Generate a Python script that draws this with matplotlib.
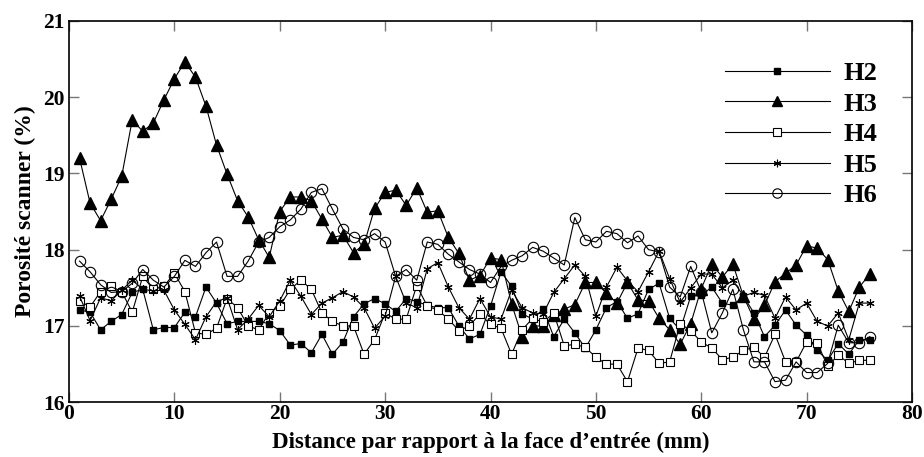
import matplotlib
matplotlib.use("Agg")
import matplotlib.pyplot as plt
import numpy as np

x = list(range(1, 77))

H2 = [17.21, 17.18, 16.95, 17.06, 17.15, 17.44, 17.48, 16.95, 16.98, 16.98,
      17.18, 17.12, 17.51, 17.30, 17.03, 17.06, 17.06, 17.06, 17.03, 16.94,
      16.75, 16.77, 16.65, 16.89, 16.63, 16.79, 17.12, 17.29, 17.36, 17.29,
      17.19, 17.36, 17.32, 17.27, 17.24, 17.24, 17.00, 16.83, 16.89, 17.26,
      17.71, 17.52, 17.16, 17.09, 17.22, 16.86, 17.09, 16.91, 16.71, 16.95,
      17.24, 17.32, 17.10, 17.16, 17.48, 17.56, 17.10, 16.95, 17.39, 17.40,
      17.51, 17.30, 17.27, 17.39, 17.17, 16.86, 17.01, 17.21, 17.01, 16.88,
      16.68, 16.55, 16.77, 16.63, 16.82, 16.82]

H3 = [19.20, 18.61, 18.38, 18.66, 18.96, 19.70, 19.55, 19.66, 19.96, 20.24,
      20.46, 20.26, 19.88, 19.37, 18.99, 18.64, 18.43, 18.13, 17.90, 18.50,
      18.69, 18.69, 18.64, 18.40, 18.16, 18.19, 17.96, 18.07, 18.54, 18.75,
      18.78, 18.58, 18.81, 18.49, 18.51, 18.16, 17.95, 17.60, 17.66, 17.89,
      17.87, 17.29, 16.86, 17.00, 17.00, 17.14, 17.22, 17.28, 17.57, 17.57,
      17.43, 17.30, 17.57, 17.34, 17.33, 17.10, 16.95, 16.76, 17.03, 17.49,
      17.81, 17.64, 17.81, 17.39, 17.09, 17.27, 17.58, 17.69, 17.80, 18.05,
      18.02, 17.87, 17.46, 17.19, 17.51, 17.68]

H4 = [17.33, 17.25, 17.45, 17.52, 17.45, 17.18, 17.65, 17.48, 17.52, 17.69,
      17.45, 16.91, 16.89, 16.97, 17.36, 17.24, 17.00, 16.95, 17.17, 17.26,
      17.48, 17.60, 17.48, 17.17, 17.06, 17.00, 17.00, 16.63, 16.82, 17.17,
      17.09, 17.09, 17.53, 17.26, 17.21, 17.09, 16.94, 17.00, 17.16, 17.02,
      16.97, 16.63, 16.95, 17.10, 17.05, 17.17, 16.74, 16.76, 16.72, 16.59,
      16.50, 16.50, 16.27, 16.71, 16.68, 16.51, 16.53, 17.03, 16.94, 16.79,
      16.71, 16.56, 16.59, 16.68, 16.72, 16.59, 16.89, 16.53, 16.53, 16.79,
      16.78, 16.47, 16.62, 16.51, 16.55, 16.55]

H5 = [17.39, 17.07, 17.37, 17.33, 17.47, 17.60, 17.48, 17.46, 17.47, 17.21,
      17.02, 16.82, 17.12, 17.32, 17.37, 16.95, 17.09, 17.27, 17.12, 17.33,
      17.60, 17.39, 17.15, 17.30, 17.37, 17.45, 17.38, 17.24, 16.97, 17.13,
      17.65, 17.30, 17.24, 17.75, 17.83, 17.51, 17.24, 17.09, 17.36, 17.12,
      17.09, 17.47, 17.24, 17.17, 17.16, 17.44, 17.62, 17.80, 17.65, 17.13,
      17.51, 17.77, 17.59, 17.45, 17.71, 17.98, 17.62, 17.31, 17.50, 17.68,
      17.68, 17.50, 17.60, 17.39, 17.44, 17.40, 17.10, 17.38, 17.21, 17.30,
      17.06, 17.00, 17.17, 16.82, 17.30, 17.30]

H6 = [17.85, 17.71, 17.54, 17.44, 17.45, 17.56, 17.74, 17.60, 17.51, 17.65,
      17.86, 17.78, 17.96, 18.10, 17.65, 17.65, 17.85, 18.10, 18.16, 18.30,
      18.39, 18.53, 18.75, 18.80, 18.53, 18.27, 18.16, 18.13, 18.21, 18.10,
      17.65, 17.74, 17.60, 18.10, 18.07, 17.94, 17.84, 17.74, 17.68, 17.57,
      17.78, 17.86, 17.92, 18.03, 17.98, 17.89, 17.80, 18.42, 18.13, 18.10,
      18.24, 18.21, 18.09, 18.18, 18.00, 17.97, 17.51, 17.38, 17.78, 17.45,
      16.91, 17.17, 17.48, 16.95, 16.53, 16.53, 16.27, 16.29, 16.53, 16.39,
      16.39, 16.51, 17.01, 16.78, 16.78, 16.86]

series = [("H2", H2), ("H3", H3), ("H4", H4), ("H5", H5), ("H6", H6)]

xticks = [0, 10, 20, 30, 40, 50, 60, 70, 80]
yticks = [16, 17, 18, 19, 20, 21]

plt.rcParams['font.family'] = ['Liberation Serif', 'DejaVu Serif']
plt.rcParams['font.weight'] = 'bold'

fig = plt.figure(figsize=(9.24, 4.57), dpi=100)
ax = fig.add_axes([69/924, 1 - 402.3/457, (912 - 69)/924, (402.3 - 20.7)/457])

styles = {
    "H2": dict(marker='s', ms=5, mfc='black', mec='black'),
    "H3": dict(marker='^', ms=8, mfc='black', mec='black'),
    "H4": dict(marker='s', ms=6, mfc='white', mec='black', mew=0.8),
    "H5": dict(marker=(6, 2, 0), ms=6, mfc='black', mec='black', mew=0.8),
    "H6": dict(marker='o', ms=7.5, mfc='none', mec='black', mew=0.8),
}

for name, vals in series:
    ax.plot(x, vals, color='black', lw=0.8, label=name, **styles[name])

ax.set_xlim(0, 80)
ax.set_ylim(16, 21)
ax.set_xticks(xticks)
ax.set_yticks(yticks)
ax.tick_params(direction='in', length=7, width=1, color='#777777',
               top=True, right=True, labelsize=15.5, pad=3)
ax.tick_params(axis='x', pad=1)
for lab in ax.get_xticklabels() + ax.get_yticklabels():
    lab.set_fontweight('bold')
for sp in ax.spines.values():
    sp.set_linewidth(1.2)

ax.set_xlabel("Distance par rapport à la face d\u2019entrée (mm)", fontsize=16.5,
              fontweight='bold')
ax.xaxis.set_label_coords(0.5, -0.078)
ax.set_ylabel("Porosité scanner (%)", fontsize=17, fontweight='bold', labelpad=5)

leg = ax.legend(loc='upper right', bbox_to_anchor=(0.987, 0.955), frameon=False,
                prop={'family': 'Liberation Serif', 'weight': 'bold', 'size': 19},
                handlelength=4.0, handletextpad=0.5, labelspacing=0.27,
                markerscale=0.9)

fig.savefig("out.png", dpi=100)
